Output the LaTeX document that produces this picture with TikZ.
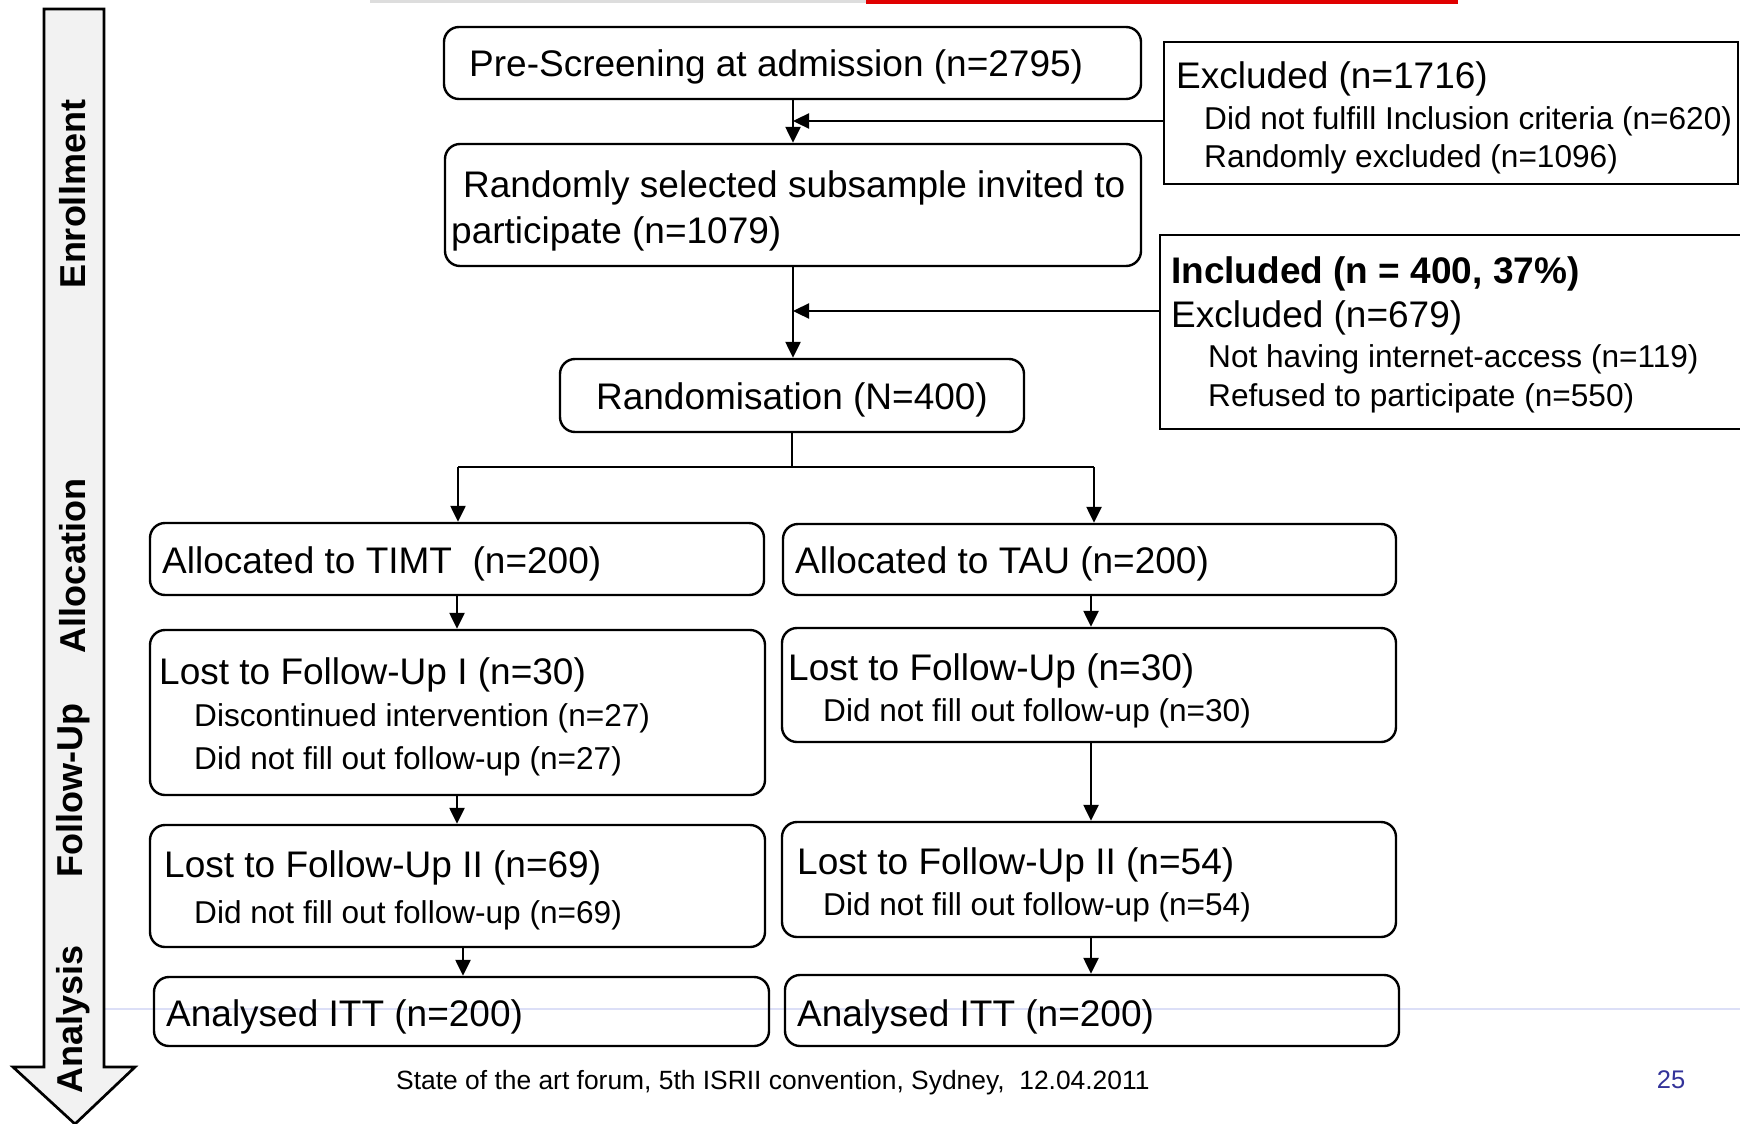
\documentclass[tikz,border=0pt]{standalone}
\usepackage{fontspec}
\setmainfont{Liberation Sans}
\usetikzlibrary{arrows.meta}
\definecolor{pgnum}{HTML}{333399}
\definecolor{slideline}{HTML}{DCDFF7}
\definecolor{sidefill}{HTML}{F2F2F2}
\definecolor{topgrey}{HTML}{DDDDDD}
\definecolor{topred}{HTML}{E00000}
\tikzset{
  rbox/.style={draw, line width=2.4pt, rounded corners=15pt, inner sep=0pt},
  sbox/.style={draw, line width=2.4pt, inner sep=0pt},
  conn/.style={line width=2.4pt},
  arr/.style={line width=2.4pt, -{Triangle[length=16pt,width=15pt]}},
  maintxt/.style={anchor=west, inner sep=0pt, font=\fontsize{37}{44}\selectfont},
  subtxt/.style={anchor=west, inner sep=0pt, font=\fontsize{31.6}{38}\selectfont},
  sidetxt/.style={rotate=90, inner sep=0pt, font=\fontsize{36}{43}\selectfont\bfseries},
}
\begin{document}
\begin{tikzpicture}[x=1pt,y=-1pt]
\useasboundingbox (0,0) rectangle (1740,1124);
% slide decorations
\fill[topgrey] (370,0) rectangle (866,3);
\fill[topred] (866,0) rectangle (1458,4);
\draw[slideline, line width=2pt] (60,1009) -- (1740,1009);
% phase arrow
\filldraw[fill=sidefill, draw=black, line width=2.7pt, line join=miter]
  (44,9) -- (104,9) -- (104,1067) -- (135,1067) -- (75,1124) -- (13,1067) -- (44,1067) -- cycle;
\node[sidetxt] (ph1) at (73,194) {Enrollment};
\node[sidetxt] (ph2) at (73,566) {Allocation};
\node[sidetxt] (ph3) at (73,791) {Follow-Up};
\node[sidetxt] (ph4) at (73,1019) {Analysis};
% boxes
\node[rbox, minimum width=697pt, minimum height=72pt] (pre) at (792.5,63) {};
\node[sbox, minimum width=574pt, minimum height=142pt] (ex1) at (1451,113) {};
\node[rbox, minimum width=696pt, minimum height=122pt] (sub) at (793,205) {};
\node[sbox, minimum width=590pt, minimum height=194pt] (ex2) at (1455,332) {};
\node[rbox, minimum width=464pt, minimum height=73pt] (rand) at (792,395.5) {};
\node[rbox, minimum width=614pt, minimum height=72pt] (timt) at (457,559) {};
\node[rbox, minimum width=613pt, minimum height=71pt] (tau) at (1089.5,559.5) {};
\node[rbox, minimum width=615pt, minimum height=165pt] (lf1) at (457.5,712.5) {};
\node[rbox, minimum width=614pt, minimum height=114pt] (lf1r) at (1089,685) {};
\node[rbox, minimum width=615pt, minimum height=122pt] (lf2) at (457.5,886) {};
\node[rbox, minimum width=614pt, minimum height=115pt] (lf2r) at (1089,879.5) {};
\node[rbox, minimum width=615pt, minimum height=69pt] (an1) at (461.5,1011.5) {};
\node[rbox, minimum width=614pt, minimum height=71pt] (an2) at (1092,1010.5) {};
% texts
\node[maintxt] (t-pre) at (469,67) {Pre-Screening at admission (n=2795)};
\node[maintxt] (t-ex1a) at (1176,79) {Excluded (n=1716)};
\node[subtxt] (t-ex1b) at (1204,121) {Did not fulfill Inclusion criteria (n=620)};
\node[subtxt] (t-ex1c) at (1204,159) {Randomly excluded (n=1096)};
\node[maintxt] (t-sub1) at (463,188) {Randomly selected subsample invited to};
\node[maintxt] (t-sub2) at (451,234) {participate (n=1079)};
\node[maintxt, font=\fontsize{37}{44}\selectfont\bfseries] (t-ex2a) at (1171,274) {Included (n = 400, 37\%)};
\node[maintxt] (t-ex2b) at (1171,318) {Excluded (n=679)};
\node[subtxt] (t-ex2c) at (1208,359) {Not having internet-access (n=119)};
\node[subtxt] (t-ex2d) at (1208,398) {Refused to participate (n=550)};
\node[inner sep=0pt, font=\fontsize{37}{44}\selectfont] (t-rand) at (792,400) {Randomisation (N=400)};
\node[maintxt] (t-timt) at (162,564) {Allocated to TIMT\ \ (n=200)};
\node[maintxt] (t-tau) at (795,564) {Allocated to TAU (n=200)};
\node[maintxt] (t-lf1a) at (159,675) {Lost to Follow-Up I (n=30)};
\node[subtxt] (t-lf1b) at (194,718) {Discontinued intervention (n=27)};
\node[subtxt] (t-lf1c) at (194,761) {Did not fill out follow-up (n=27)};
\node[maintxt] (t-lf1ra) at (788,671) {Lost to Follow-Up (n=30)};
\node[subtxt] (t-lf1rb) at (823,713) {Did not fill out follow-up (n=30)};
\node[maintxt] (t-lf2a) at (164,868) {Lost to Follow-Up II (n=69)};
\node[subtxt] (t-lf2b) at (194,915) {Did not fill out follow-up (n=69)};
\node[maintxt] (t-lf2ra) at (797,865) {Lost to Follow-Up II (n=54)};
\node[subtxt] (t-lf2rb) at (823,907) {Did not fill out follow-up (n=54)};
\node[maintxt] (t-an1) at (166,1017) {Analysed ITT (n=200)};
\node[maintxt] (t-an2) at (797,1017) {Analysed ITT (n=200)};
% footer
\node[anchor=west, inner sep=0pt, font=\fontsize{26.4}{32}\selectfont] (foot) at (396,1083) {State of the art forum, 5th ISRII convention, Sydney,\ \ 12.04.2011};
\node[inner sep=0pt, text=pgnum, font=\fontsize{25.5}{31}\selectfont] (pgno) at (1671,1080) {25};
% connector columns and rows
\coordinate (cM) at (793,0);
\coordinate (h1) at (0,121);
\coordinate (h2) at (0,311);
\coordinate (bar) at (0,467);
\coordinate (bL) at (458,0);
\coordinate (bR) at (1094,0);
\coordinate (cL) at (457,0);
\coordinate (cL2) at (463,0);
\coordinate (cR) at (1091,0);
\coordinate (j1) at (cM |- h1);
\coordinate (j2) at (cM |- h2);
% connectors
\draw[arr] (pre.south -| cM) -- (sub.north -| cM);
\draw[arr] (ex1.west |- h1) -- (j1);
\draw[arr] (sub.south -| cM) -- (rand.north -| cM);
\draw[arr] (ex2.west |- h2) -- (j2);
\draw[conn] (rand.south) -- (rand.south |- bar);
\draw[conn] (bL |- bar) -- (bR |- bar);
\draw[arr] (bL |- bar) -- (timt.north -| bL);
\draw[arr] (bR |- bar) -- (tau.north -| bR);
\draw[arr] (timt.south -| cL) -- (lf1.north -| cL);
\draw[arr] (tau.south -| cR) -- (lf1r.north -| cR);
\draw[arr] (lf1.south -| cL) -- (lf2.north -| cL);
\draw[arr] (lf1r.south -| cR) -- (lf2r.north -| cR);
\draw[arr] (lf2.south -| cL2) -- (an1.north -| cL2);
\draw[arr] (lf2r.south -| cR) -- (an2.north -| cR);
\end{tikzpicture}
\end{document}
